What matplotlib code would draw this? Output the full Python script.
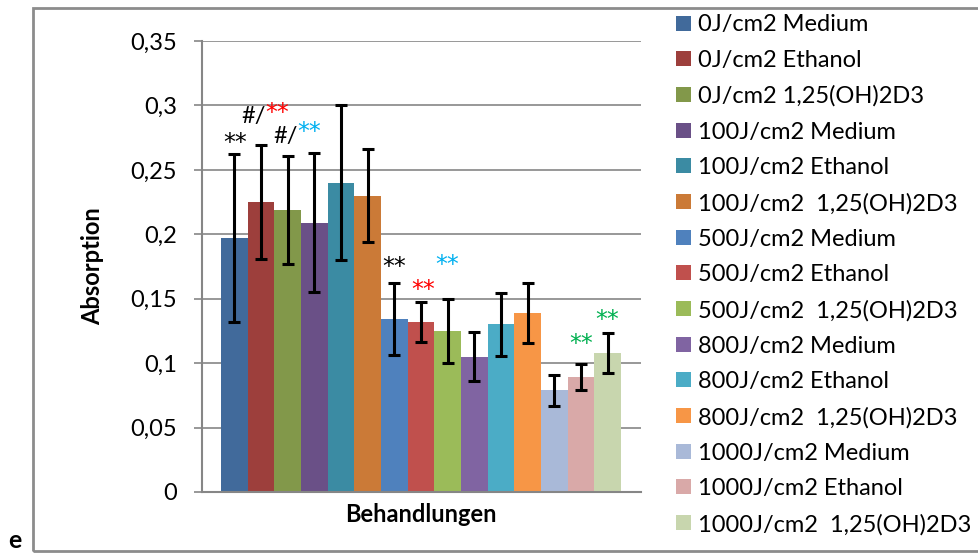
import matplotlib
matplotlib.use("Agg")
import matplotlib.pyplot as plt
from matplotlib.patches import Patch, Rectangle

plt.rcParams["font.family"] = ["Lato", "DejaVu Sans"]

# data
labels = [
    "0J/cm2 Medium", "0J/cm2 Ethanol", "0J/cm2 1,25(OH)2D3",
    "100J/cm2 Medium", "100J/cm2 Ethanol", "100J/cm2  1,25(OH)2D3",
    "500J/cm2 Medium", "500J/cm2 Ethanol", "500J/cm2  1,25(OH)2D3",
    "800J/cm2 Medium", "800J/cm2 Ethanol", "800J/cm2  1,25(OH)2D3",
    "1000J/cm2 Medium", "1000J/cm2 Ethanol", "1000J/cm2  1,25(OH)2D3",
]
values = [0.197, 0.225, 0.219, 0.209, 0.240, 0.230,
          0.134, 0.132, 0.125, 0.105, 0.130, 0.139,
          0.079, 0.089, 0.108]
errors = [0.065, 0.044, 0.042, 0.054, 0.060, 0.036,
          0.028, 0.0155, 0.025, 0.019, 0.0245, 0.023,
          0.012, 0.010, 0.0155]
colors = ["#416A9B", "#9D3F3C", "#82984A", "#6A5087", "#3B8BA3", "#CB7A37",
          "#4F81BD", "#C0504D", "#9BBB59", "#8064A2", "#4BACC6", "#F79646",
          "#A9B9D8", "#D9A9A8", "#C8D6AE"]
y_ticks = [0, 0.05, 0.1, 0.15, 0.2, 0.25, 0.3, 0.35]
y_ticklabels = ["0", "0,05", "0,1", "0,15", "0,2", "0,25", "0,3", "0,35"]

# significance marks: (bar position, y, prefix, stars, star colour)
marks = [
    (0.05, 0.271, "", "**", "black"),
    (1.17, 0.2915, "#/", "**", "#FF0000"),
    (2.37, 0.276, "#/", "**", "#00B0F0"),
    (6.0, 0.1744, "", "**", "black"),
    (7.1, 0.1566, "", "**", "#FF0000"),
    (8.0, 0.176, "", "**", "#00B0F0"),
    (13.0, 0.1147, "", "**", "#00B050"),
    (14.0, 0.1333, "", "**", "#00B050"),
]

W, H = 979, 553
fig = plt.figure(figsize=(W / 100, H / 100), dpi=100)
ax = fig.add_axes([202 / W, 1 - 492 / H, (641 - 202) / W, (492 - 41) / H])

grid_c = "#868686"
x = list(range(len(values)))
ax.bar(x, values, width=1.0, color=colors, zorder=2)
ax.errorbar(x, values, yerr=errors, fmt="none", ecolor="black",
            elinewidth=2.2, capsize=4.6, capthick=2.2, zorder=3)

ax.set_xlim(-1.21, 15.25)
ax.set_ylim(0, 0.35)
ax.set_yticks(y_ticks)
ax.set_yticklabels(y_ticklabels)
ax.set_xticks([])
ax.yaxis.grid(True, color=grid_c, linewidth=1.2, zorder=0)
ax.set_axisbelow(True)
ax.tick_params(axis="y", length=6, width=1.2, color=grid_c, pad=12,
               labelsize=17)
for s in ("top", "right"):
    ax.spines[s].set_visible(False)
for s in ("left", "bottom"):
    ax.spines[s].set_color(grid_c)
    ax.spines[s].set_linewidth(1.5)

star_font = ["DejaVu Sans"]
for xp, yp, pre, stars, col in marks:
    if pre:
        ax.text(xp, yp, pre, ha="right", va="center", fontsize=17,
                color="black", zorder=4)
        ax.text(xp, yp + 0.003, stars, ha="left", va="center", fontsize=17,
                family=star_font, color=col, zorder=4)
    else:
        ax.text(xp, yp, stars, ha="center", va="center", fontsize=17,
                family=star_font, color=col, zorder=4)

fig.text(93 / W, 1 - 266 / H, "Absorption", rotation=90, ha="center",
         va="center", fontsize=17, fontweight="bold")
fig.text(421 / W, 1 - 514 / H, "Behandlungen", ha="center", va="center",
         fontsize=17, fontweight="bold")
fig.text(15 / W, 1 - 540 / H, "e", ha="center", va="center",
         fontsize=18, fontweight="bold")

handles = [Patch(facecolor=c, edgecolor="none") for c in colors]
fig.legend(handles, labels, loc="upper left",
           bbox_to_anchor=(667 / W, 1 - 5 / H), frameon=False, fontsize=17,
           handlelength=0.6, handleheight=0.6, handletextpad=0.3,
           labelspacing=0.615, borderaxespad=0)

# outer chart border
fig.add_artist(Rectangle((33 / W, 1 - 551 / H), (W + 10 - 33) / W,
                         (551 - 8) / H, transform=fig.transFigure,
                         fill=False, edgecolor="#8C8C8C", linewidth=2,
                         clip_on=False))

fig.savefig("out.png", dpi=100)
